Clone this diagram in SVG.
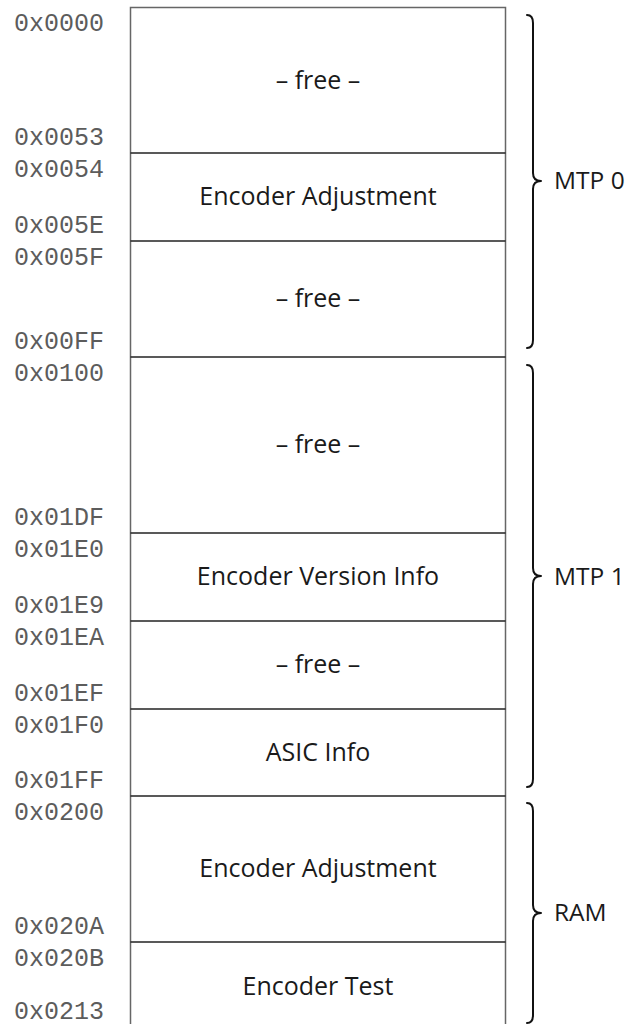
<svg xmlns="http://www.w3.org/2000/svg" width="639" height="1024" viewBox="0 0 639 1024">
  <style>
    .addr { font-family: "Liberation Mono", "Courier New", monospace; font-size: 25px; fill: #5c5c5c; }
    .lbl { font-family: "Open Sans", "Noto Sans", sans-serif; font-size: 25px; fill: #1a1a1a; text-anchor: middle; }
    .grp { font-family: "Open Sans", "Noto Sans", sans-serif; font-size: 24.5px; fill: #1a1a1a; }
    .frame { fill: #ffffff; stroke: #666666; stroke-width: 1.5; }
    .div { stroke: #222222; stroke-width: 1.3; }
    .brace { fill: none; stroke: #111111; stroke-width: 2; stroke-linecap: round; stroke-linejoin: round; }
  </style>
  <rect width="639" height="1024" fill="#ffffff"/>

  <!-- memory frame -->
  <rect class="frame" x="130.5" y="7.5" width="375" height="1030"/>

  <!-- region boundaries -->
  <g id="connectors">
    <line class="div" x1="130.5" y1="153" x2="505.5" y2="153"/>
    <line class="div" x1="130.5" y1="241" x2="505.5" y2="241"/>
    <line class="div" x1="130.5" y1="357" x2="505.5" y2="357"/>
    <line class="div" x1="130.5" y1="533" x2="505.5" y2="533"/>
    <line class="div" x1="130.5" y1="621" x2="505.5" y2="621"/>
    <line class="div" x1="130.5" y1="709" x2="505.5" y2="709"/>
    <line class="div" x1="130.5" y1="796" x2="505.5" y2="796"/>
    <line class="div" x1="130.5" y1="942" x2="505.5" y2="942"/>
  </g>

  <!-- regions -->
  <g id="r0000">
    <text class="addr" x="14" y="31">0x0000</text>
    <text class="lbl" x="318" y="89">– free –</text>
    <text class="addr" x="14" y="145">0x0053</text>
  </g>
  <g id="r0054">
    <text class="addr" x="14" y="177">0x0054</text>
    <text class="lbl" x="318" y="205">Encoder Adjustment</text>
    <text class="addr" x="14" y="233">0x005E</text>
  </g>
  <g id="r005F">
    <text class="addr" x="14" y="265">0x005F</text>
    <text class="lbl" x="318" y="307">– free –</text>
    <text class="addr" x="14" y="349">0x00FF</text>
  </g>
  <g id="r0100">
    <text class="addr" x="14" y="381">0x0100</text>
    <text class="lbl" x="318" y="453">– free –</text>
    <text class="addr" x="14" y="525">0x01DF</text>
  </g>
  <g id="r01E0">
    <text class="addr" x="14" y="557">0x01E0</text>
    <text class="lbl" x="318" y="585">Encoder Version Info</text>
    <text class="addr" x="14" y="613">0x01E9</text>
  </g>
  <g id="r01EA">
    <text class="addr" x="14" y="645">0x01EA</text>
    <text class="lbl" x="318" y="673">– free –</text>
    <text class="addr" x="14" y="701">0x01EF</text>
  </g>
  <g id="r01F0">
    <text class="addr" x="14" y="733">0x01F0</text>
    <text class="lbl" x="318" y="761">ASIC Info</text>
    <text class="addr" x="14" y="788">0x01FF</text>
  </g>
  <g id="r0200">
    <text class="addr" x="14" y="820">0x0200</text>
    <text class="lbl" x="318" y="877">Encoder Adjustment</text>
    <text class="addr" x="14" y="934">0x020A</text>
  </g>
  <g id="r020B">
    <text class="addr" x="14" y="966">0x020B</text>
    <text class="lbl" x="318" y="995">Encoder Test</text>
    <text class="addr" x="14" y="1019">0x0213</text>
  </g>

  <!-- memory groups -->
  <g id="mtp0">
    <path class="brace" d="M527,15 Q533,15 533,23 L533,173 Q533,181 541,181 Q533,181 533,189 L533,340 Q533,348 527,348"/>
    <text class="grp" x="554" y="189">MTP 0</text>
  </g>
  <g id="mtp1">
    <path class="brace" d="M527,365 Q533,365 533,373 L533,568 Q533,576 541,576 Q533,576 533,584 L533,779 Q533,787 527,787"/>
    <text class="grp" x="554" y="585">MTP 1</text>
  </g>
  <g id="ram">
    <path class="brace" d="M527,803 Q533,803 533,811 L533,905 Q533,913 541,913 Q533,913 533,921 L533,1015 Q533,1023 527,1023"/>
    <text class="grp" x="554" y="921">RAM</text>
  </g>
</svg>
